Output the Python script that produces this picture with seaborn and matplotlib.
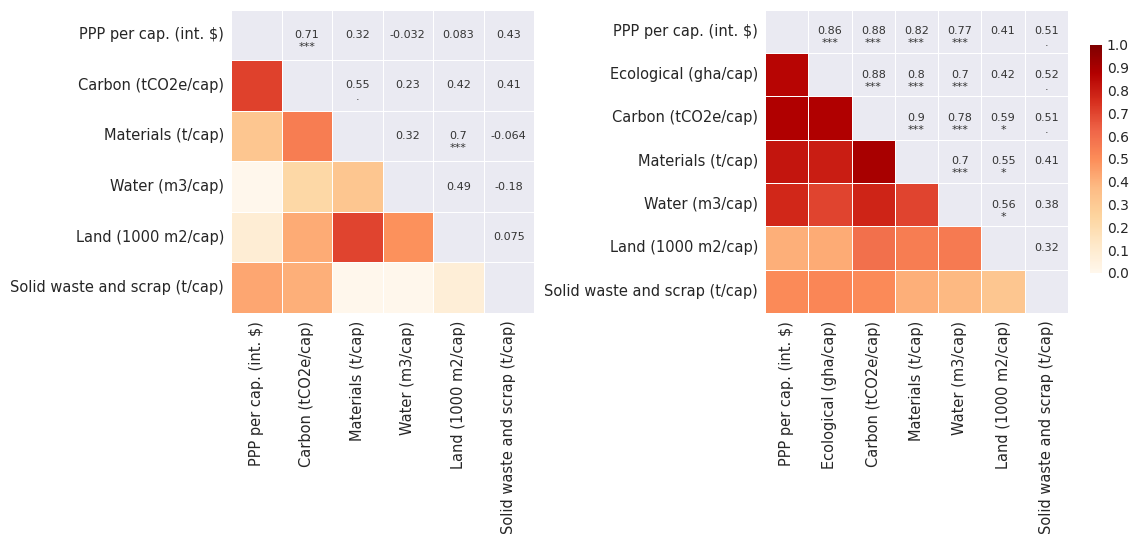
import numpy as np
import pandas as pd
import matplotlib
matplotlib.use("Agg")
import matplotlib.pyplot as plt
from matplotlib.colors import ListedColormap
import seaborn as sns

# Indicator labels for the two correlation matrices
labels_left = ["PPP per cap. (int. $)", "Carbon (tCO2e/cap)", "Materials (t/cap)",
               "Water (m3/cap)", "Land (1000 m2/cap)", "Solid waste and scrap (t/cap)"]
labels_right = ["PPP per cap. (int. $)", "Ecological (gha/cap)", "Carbon (tCO2e/cap)",
                "Materials (t/cap)", "Water (m3/cap)", "Land (1000 m2/cap)",
                "Solid waste and scrap (t/cap)"]

# Pairwise correlations (upper triangle, row by row) and significance codes
corr_left = [0.71, 0.32, -0.032, 0.083, 0.43,
             0.55, 0.23, 0.42, 0.41,
             0.32, 0.7, -0.064,
             0.49, -0.18,
             0.075]
sig_left = ["***", "", "", "", "",
            ".", "", "", "",
            "", "***", "",
            "", "",
            ""]

corr_right = [0.86, 0.88, 0.82, 0.77, 0.41, 0.51,
              0.88, 0.8, 0.7, 0.42, 0.52,
              0.9, 0.78, 0.59, 0.51,
              0.7, 0.55, 0.41,
              0.56, 0.38,
              0.32]
sig_right = ["***", "***", "***", "***", "", ".",
             "***", "***", "***", "", ".",
             "***", "***", "*", ".",
             "***", "*", "",
             "*", "",
             ""]

sns.set_theme(style="darkgrid")
plt.rcParams["font.family"] = ["DejaVu Sans"]

GRID_BG = "#EAEAF2"


def corr_frame(labels, upper):
    n = len(labels)
    m = np.eye(n)
    iu = np.triu_indices(n, k=1)
    m[iu] = upper
    m[(iu[1], iu[0])] = upper
    return pd.DataFrame(m, index=labels, columns=labels)


def draw(ax, labels, upper, sig, cbar_ax=None):
    df = corr_frame(labels, upper)
    n = len(labels)
    iu = np.triu_indices(n, k=1)
    lower = np.tril(np.ones((n, n), dtype=bool), k=-1)

    # upper half: plain cells carrying the coefficient
    text = np.full((n, n), "", dtype=object)
    for i, j, v in zip(iu[0], iu[1], upper):
        text[i, j] = f"{v:.2g}"
    sns.heatmap(df, mask=lower, cmap=ListedColormap([GRID_BG]), cbar=False,
                annot=text, fmt="", annot_kws={"fontsize": 8, "color": ".2"},
                linewidths=0.7, linecolor="white", ax=ax)

    # lower half: coloured by correlation strength
    sns.heatmap(df, mask=~lower, cmap="OrRd", vmin=0, vmax=1,
                linewidths=0.7, linecolor="white", ax=ax,
                cbar=cbar_ax is not None, cbar_ax=cbar_ax,
                cbar_kws={"ticks": np.round(np.arange(0, 1.01, 0.1), 1)})

    # significance codes below each coefficient
    for i, j, s in zip(iu[0], iu[1], sig):
        if s:
            ax.annotate(s, (j + 0.5, i + 0.5), xytext=(0, -10.8),
                        textcoords="offset points", ha="center", va="baseline",
                        fontsize=8, color=".2")

    ax.grid(False)
    ax.set_xlabel("")
    ax.set_ylabel("")
    ax.tick_params(axis="x", rotation=90, length=0, pad=5.5, labelsize=10.5)
    ax.tick_params(axis="y", rotation=0, length=0, pad=5, labelsize=10.5)
    for t in ax.get_xticklabels():
        t.set_va("top")
        t.set_ha("center")


fig = plt.figure(figsize=(11.43, 5.36), dpi=100)
ax_left = fig.add_axes([0.2021, 0.4160, 0.2651, 0.5662])
ax_right = fig.add_axes([0.6693, 0.4160, 0.2651, 0.5662])
cax = fig.add_axes([0.9536, 0.4907, 0.0105, 0.4254])

draw(ax_left, labels_left, corr_left, sig_left)
draw(ax_right, labels_right, corr_right, sig_right, cbar_ax=cax)

cax.tick_params(length=0, pad=3.5, labelsize=10)
cax.grid(False)

fig.savefig("out.png", dpi=100)
